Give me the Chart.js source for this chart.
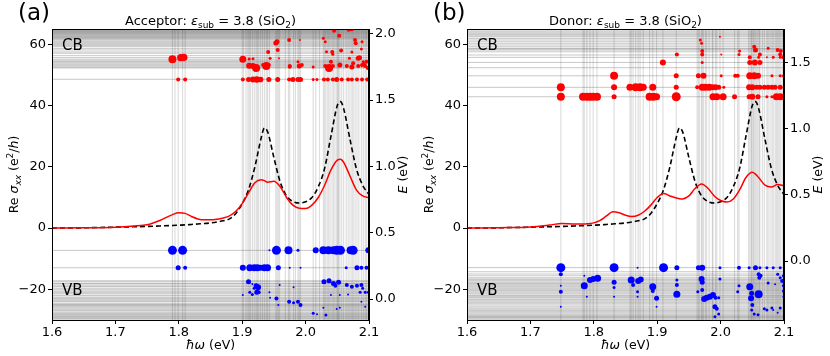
<!DOCTYPE html>
<html><head><meta charset="utf-8">
<script src="https://cdn.jsdelivr.net/npm/chart.js@4.4.1/dist/chart.umd.min.js"></script>
<style>
html,body{margin:0;padding:0;background:#fff;}
#wrap{position:relative;width:830px;height:356px;}
canvas{position:absolute;top:0;}
</style></head><body>
<div id="wrap"><canvas id="ca" width="415" height="356" style="left:0"></canvas><canvas id="cb" width="415" height="356" style="left:415px"></canvas></div>
<script>
// ---------- data ----------
const xTicks = [1.6, 1.7, 1.8, 1.9, 2.0, 2.1];
const sigmaTicks = [-20, 0, 20, 40, 60];
const eTicksAcceptor = [0.0, 0.5, 1.0, 1.5, 2.0];
const eTicksDonor = [0.0, 0.5, 1.0, 1.5];

const omega = [1.60,1.65,1.70,1.73,1.75,1.77,1.79,1.80,1.81,1.82,1.83,1.84,1.85,1.86,1.87,1.88,1.89,1.90,1.91,1.92,1.93,1.935,1.94,1.95,1.96,1.97,1.98,1.99,2.00,2.01,2.02,2.03,2.04,2.05,2.055,2.06,2.07,2.08,2.09,2.10];
const sigmaPristine = [0.0,0.1,0.3,0.45,0.55,0.7,0.85,0.95,1.05,1.2,1.35,1.5,1.7,2.0,2.4,3.0,4.8,8.0,12.5,20,29.5,32.7,31.5,23,15,10.5,8.7,8.2,8.6,10,13.5,19.5,30,40,41.3,39,29,19.5,14,11];
const sigmaAcceptor = [0.0,0.1,0.3,0.7,1.1,2.5,4.4,5.0,4.8,3.8,3.0,2.7,2.7,2.9,3.3,4.0,5.5,8.0,11.5,14.8,15.8,15.5,15.0,15.3,13.5,10,7.5,6.5,6.4,7.5,10,14,19,22.2,22.5,21.5,17,12.5,10.5,10];
const sigmaDonor = [0.0,0.15,0.4,1.0,1.5,1.3,1.4,1.7,2.5,4.0,5.3,5.0,4.2,3.8,4.2,5.5,7.5,10,11.3,10.5,9.8,9.6,9.5,10.5,13,14.4,13,10.5,9,8.5,9.5,12.5,16.5,18.2,17.6,16.5,14,13.4,14.2,13.8];

const transAcceptor = [1.790,1.794,1.799,1.806,1.810,1.900,1.902,1.906,1.909,1.911,1.913,1.916,1.919,1.922,1.924,1.926,1.929,1.932,1.935,1.938,1.940,1.943,1.953,1.955,1.957,1.959,1.968,1.973,1.975,1.981,1.984,1.988,1.990,1.992,2.012,2.016,2.022,2.028,2.030,2.032,2.035,2.037,2.040,2.043,2.045,2.048,2.050,2.051,2.052,2.054,2.057,2.060,2.064,2.067,2.070,2.073,2.075,2.078,2.081,2.084,2.088,2.091,2.094,2.096,2.099];
const transDonor = [1.748,1.783,1.785,1.789,1.794,1.799,1.805,1.832,1.857,1.859,1.862,1.866,1.870,1.873,1.878,1.888,1.893,1.899,1.909,1.930,1.963,1.965,1.967,1.970,1.971,1.973,1.976,1.978,1.982,1.987,1.988,1.992,1.994,1.999,2.004,2.022,2.027,2.029,2.044,2.046,2.048,2.049,2.050,2.052,2.053,2.055,2.057,2.059,2.061,2.062,2.066,2.069,2.073,2.075,2.078,2.081,2.083,2.086,2.088,2.090,2.092,2.094,2.097,2.099];

const levelsAcceptor = [1.657,1.742,1.748,1.757,1.765,1.773,1.782,1.790,1.797,1.808,1.820,1.835,1.853,1.863,1.878,1.890,1.903,1.912,1.920,1.928,1.936,1.944,1.953,1.960,1.966,1.970,1.975,1.980,1.985,1.990,1.995,2.000,2.004,2.008,2.012,2.016,2.020,2.024,2.028,2.032,2.036,
  0.367,0.236,0.138,0.130,0.118,0.113,0.100,0.093,0.081,0.070,0.060,0.051,0.043,0.030,0.023,0.010,0.005,-0.005,-0.013,-0.020,-0.032,-0.040,-0.045,-0.050,-0.058,-0.066,-0.075,-0.083,-0.090,-0.100,-0.108,-0.115,-0.121,-0.128,-0.133,-0.140,-0.146,-0.152];
const levelsDonor = [1.239,1.310,1.397,1.458,1.498,1.536,1.554,1.578,1.591,1.599,1.604,1.616,1.629,1.642,1.654,1.667,1.679,1.691,1.699,1.708,1.717,1.726,1.735,1.745,1.750,1.755,
  -0.050,-0.081,-0.098,-0.111,-0.126,-0.136,-0.143,-0.151,-0.161,-0.170,-0.176,-0.186,-0.194,-0.203,-0.211,-0.219,-0.226,-0.235,-0.244,-0.256,-0.262,-0.270,-0.277,-0.287,-0.294,-0.303,-0.312,-0.322,-0.332,-0.345,-0.355,-0.364,-0.373,-0.382,-0.391,-0.400,-0.408,-0.415,-0.420,-0.426,-0.432,-0.440];

// [ħω (eV), E (eV), strength]
const cbAcceptor = [
 [1.799,1.655,2],[1.810,1.655,2],[1.901,1.655,2],[1.910,1.655,2.5],[1.917,1.655,3],[1.923,1.655,3.2],[1.929,1.655,2.8],[1.942,1.655,2.5],[1.956,1.655,2.5],[1.974,1.655,2],[1.980,1.655,2.5],[1.988,1.655,2.5],[1.992,1.655,2.5],[2.012,1.655,1.5],[2.018,1.655,1.5],[2.029,1.655,2],[2.035,1.655,2],[2.043,1.655,2],[2.049,1.655,2.5],[2.057,1.655,2],[2.067,1.655,2],[2.073,1.655,2],[2.081,1.655,2],[2.089,1.655,2],[2.097,1.655,2],
 [1.911,1.759,3],[1.917,1.757,3],[1.922,1.742,4],[1.933,1.765,2],[1.938,1.757,4],[1.942,1.765,2],[1.975,1.757,2],[1.990,1.757,2.5],[1.994,1.765,2],[2.012,1.750,1.5],[2.031,1.757,2],[2.037,1.742,4],[2.043,1.757,2],[2.054,1.765,2.5],[2.065,1.757,2],[2.073,1.750,2.5],[2.083,1.757,2],[2.089,1.765,2],[2.094,1.757,2],[2.098,1.742,2],
 [1.790,1.808,4],[1.803,1.820,3.6],[1.808,1.822,3.6],[1.901,1.808,3.5],[1.911,1.810,1.5],[1.917,1.812,1.5],[1.944,1.815,1.5],[1.958,1.815,1],[1.975,1.752,2],[1.988,1.790,1.5],
 [1.941,1.863,2],[1.956,1.878,2],[1.953,1.931,2.5],[1.955,1.940,2.5],[1.974,1.953,2],[1.991,1.953,1],[2.031,1.940,1.5],[2.045,2.023,2],[2.053,1.986,2],[2.068,2.030,2],[2.079,1.928,2],[2.089,1.940,1.5],
 [2.042,1.863,2],[2.056,1.873,2],[2.073,1.863,1.5],[2.083,1.815,2.5],[2.091,1.790,1.5],[2.075,1.777,2],[2.028,1.966,1.5],[2.073,2.034,2],[2.078,1.953,2],[2.088,1.885,1.5],[2.033,1.865,1.5],[2.043,1.845,1.5],[2.040,1.790,2],[2.069,1.815,1.5],[2.085,1.820,2.5],[2.096,1.790,2],[2.092,1.770,2]
];
const vbAcceptor = [
 [1.790,0.367,4.5],[1.806,0.367,4.5],[1.943,0.367,1],[1.954,0.367,4.5],[1.973,0.367,4],[1.988,0.367,1.5],[2.016,0.367,3],[2.028,0.367,4],[2.036,0.367,4],[2.044,0.367,4],[2.049,0.367,4.5],[2.055,0.367,4.5],[2.071,0.367,4],[2.075,0.367,4.5],[2.099,0.367,3],
 [1.799,0.236,2.5],[1.810,0.236,2],[1.901,0.236,3],[1.912,0.236,3.5],[1.919,0.236,3.5],[1.924,0.236,3.5],[1.929,0.236,3],[1.935,0.236,3.5],[1.940,0.236,3.5],[1.957,0.236,2.5],[1.975,0.236,1],[1.992,0.236,1],[2.064,0.236,1.5],[2.081,0.236,2.5],[2.088,0.236,2],[2.096,0.236,2],
 [1.910,0.130,2.5],[1.916,0.113,1],[1.922,0.100,2.5],[1.925,0.088,3],[1.919,0.081,1.5],[1.959,0.106,1],[1.981,0.088,1],[1.912,0.051,1.5],[1.923,0.051,2.5],[1.926,0.051,2],[1.901,0.030,1],[1.916,0.035,1.5],[1.943,0.051,1],[1.944,0.010,1],[1.954,0.005,2],[1.974,-0.020,2],[1.981,-0.028,1.5],[1.988,-0.020,2],[1.992,-0.045,2],[1.957,-0.045,1],
 [2.012,-0.108,1.5],[2.018,-0.115,1],[2.032,-0.121,1.5],[2.028,-0.066,1],[2.049,-0.075,1],[2.054,-0.066,1],[2.029,0.130,2.5],[2.037,0.138,2.5],[2.044,0.118,2.5],[2.052,0.126,2.5],[2.047,0.100,2],[2.065,0.106,2],[2.073,0.093,2],[2.081,0.100,2],[2.088,0.106,2],[2.090,0.081,1.5],[2.067,0.035,1],[2.086,0.051,1.5],[2.094,0.051,1.5],[2.099,0.051,1.5],[2.040,0.030,1],[2.054,0.030,1],[2.088,-0.020,1],[2.094,-0.058,1]
];
const cbDonor = [
 [1.748,1.239,4],[1.783,1.239,4],[1.789,1.239,4],[1.794,1.239,4],[1.799,1.239,4],[1.805,1.239,4],[1.832,1.239,2.5],[1.888,1.239,4],[1.894,1.239,4],[1.899,1.239,3.5],[1.930,1.239,4.5],[1.988,1.239,3.5],[1.994,1.239,3.5],[2.004,1.239,3.5],[2.022,1.239,2.5],[2.045,1.239,2.5],[2.050,1.239,3],[2.059,1.239,2.5],[2.073,1.239,1.5],[2.081,1.239,1.5],[2.088,1.239,3.5],[2.094,1.239,3.5],[2.099,1.239,3],
 [1.748,1.310,4],[1.832,1.310,3],[1.857,1.310,3.5],[1.866,1.310,4],[1.873,1.310,4],[1.878,1.310,3.5],[1.893,1.310,3.5],[1.930,1.310,2.5],[1.963,1.310,2],[1.971,1.310,3.5],[1.976,1.310,3.5],[1.982,1.310,3.5],[1.987,1.310,3],[1.992,1.310,3],[1.997,1.310,2.5],[2.005,1.310,1.5],[2.045,1.310,3],[2.050,1.310,3],[2.057,1.310,2.5],[2.062,1.310,2.5],[2.069,1.310,2.5],[2.075,1.310,2.5],[2.081,1.310,2.5],[2.086,1.310,2.5],[2.094,1.310,2.5],
 [1.832,1.397,4],[1.930,1.397,2.5],[1.965,1.397,2.5],[1.973,1.397,3],[2.001,1.397,1.5],[2.023,1.397,2],[2.027,1.397,2],[2.046,1.397,3.5],[2.053,1.397,3.5],[2.059,1.397,3],[2.081,1.397,1.5],[2.094,1.397,1.5],[2.099,1.397,1.5],
 [1.909,1.498,3],[1.971,1.498,1.5],[2.046,1.498,2.5],[2.054,1.498,3],[2.062,1.498,2.5],
 [2.046,1.536,2],[2.060,1.536,1.5],[2.073,1.536,1],[2.083,1.536,1.5],[2.094,1.536,1.5],[2.099,1.536,2],[1.931,1.557,2],[1.971,1.557,2],[2.029,1.557,1.5],[2.062,1.557,2],[2.094,1.557,2],[1.971,1.584,2],[1.968,1.667,1.5],[1.970,1.642,1.5],[1.999,1.691,1],[2.053,1.616,2],[2.055,1.591,2.5],[2.075,1.604,1.5],[2.090,1.591,2],[2.095,1.584,2],[2.001,1.557,1],[2.030,1.584,1.5]
];
const vbDonor = [
 [1.748,-0.050,4.5],[1.832,-0.050,4.5],[1.869,-0.050,1],[1.910,-0.050,4.5],[1.931,-0.050,2.5],[1.965,-0.050,2.5],[1.971,-0.050,3],[1.999,-0.050,1.5],[2.029,-0.050,2],[2.045,-0.050,1.5],[2.055,-0.050,2.5],[2.062,-0.050,1.5],[2.073,-0.050,1.5],[2.083,-0.050,1.5],[2.094,-0.050,1.5],
 [1.748,-0.100,2],[1.748,-0.186,1],[1.748,-0.232,2],[1.748,-0.345,1],[1.785,-0.111,1],[1.785,-0.186,3.5],[1.794,-0.143,3],[1.799,-0.136,3],[1.806,-0.130,3.5],[1.789,-0.269,1],[1.832,-0.161,2.5],[1.832,-0.200,1.5],[1.832,-0.269,1],
 [1.859,-0.143,3.5],[1.862,-0.181,2],[1.870,-0.151,3],[1.874,-0.140,3],[1.869,-0.232,1.5],[1.869,-0.269,1],[1.893,-0.194,3.5],[1.893,-0.226,2],[1.899,-0.281,2.5],[1.899,-0.345,1],[1.931,-0.143,1.5],[1.931,-0.181,2],[1.931,-0.251,3.5],
 [1.964,-0.232,1.5],[1.970,-0.136,3],[1.971,-0.160,2.5],[1.971,-0.219,2],[1.974,-0.287,3],[1.978,-0.277,3],[1.983,-0.269,3],[1.988,-0.256,3],[1.992,-0.277,2],[1.991,-0.345,2.5],[1.994,-0.360,2],[1.997,-0.277,1.5],[1.999,-0.136,1.5],[1.991,-0.420,1.5],[1.997,-0.400,1.5],[2.027,-0.232,1.5],[2.029,-0.186,1.5],
 [2.046,-0.194,3.5],[2.048,-0.281,3],[2.049,-0.244,2.5],[2.060,-0.251,4],[2.061,-0.126,2],[2.063,-0.111,2],[2.060,-0.100,2],[2.050,-0.332,2],[2.049,-0.370,1.5],[2.053,-0.400,1.5],[2.059,-0.405,1.5],[2.069,-0.360,1.5],[2.073,-0.370,1.5],[2.081,-0.355,1.5],[2.083,-0.370,1],
 [2.090,-0.100,1.5],[2.094,-0.126,1.5],[2.097,-0.151,2],[2.099,-0.111,1.5],[2.099,-0.186,1.5],[2.099,-0.226,1.5],[2.094,-0.355,1.5],[2.090,-0.390,1],[2.099,-0.269,1],[2.075,-0.165,1.5],[2.086,-0.175,1]
];

// ---------- drawing ----------
const FONT = '"DejaVu Sans"';
const X_MIN = 1.6, X_MAX = 2.1, S_MIN = -30, S_MAX = 65;

function drawRich(ctx, segs, x, y, rot){
  ctx.save();
  ctx.translate(x, y); ctx.rotate(rot || 0);
  let w = 0;
  segs.forEach(s => { ctx.font = (s.it ? 'italic ' : '') + s.sz + 'px ' + FONT; s.w = ctx.measureText(s.t).width; w += s.w; });
  let cx = -w / 2;
  ctx.fillStyle = '#000'; ctx.textAlign = 'left'; ctx.textBaseline = 'alphabetic';
  segs.forEach(s => { ctx.font = (s.it ? 'italic ' : '') + s.sz + 'px ' + FONT; ctx.fillText(s.t, cx, s.dy || 0); cx += s.w; });
  ctx.restore();
}

function makeChart(id, cfg){
  const ds = [];
  cfg.trans.forEach(v => ds.push({type:'line', data:[{x:v,y:S_MIN},{x:v,y:S_MAX}], yAxisID:'y', borderColor:'rgba(0,0,0,0.13)', borderWidth:1.2, pointRadius:0, order:4}));
  cfg.levels.forEach(e => ds.push({type:'line', data:[{x:X_MIN,y:e},{x:X_MAX,y:e}], yAxisID:'y2', borderColor:'rgba(0,0,0,0.22)', borderWidth:1, pointRadius:0, order:3}));
  ds.push({type:'line', data: omega.map((x,i)=>({x, y:sigmaPristine[i]})), yAxisID:'y', borderColor:'#000', borderDash:[5,3], borderWidth:1.6, pointRadius:0, cubicInterpolationMode:'monotone', order:2});
  ds.push({type:'line', data: omega.map((x,i)=>({x, y:cfg.sigma[i]})), yAxisID:'y', borderColor:'#ff0000', borderWidth:1.5, pointRadius:0, cubicInterpolationMode:'monotone', order:1});
  ds.push({type:'scatter', data: cfg.cb.map(p=>({x:p[0], y:p[1]})), yAxisID:'y2', pointRadius: cfg.cb.map(p=>p[2]), backgroundColor:'#ff0000', borderWidth:0, order:0});
  ds.push({type:'scatter', data: cfg.vb.map(p=>({x:p[0], y:p[1]})), yAxisID:'y2', pointRadius: cfg.vb.map(p=>p[2]), backgroundColor:'#0000ff', borderWidth:0, order:0});

  const tickFont = {family:FONT, size:13};
  const grid = {display:true, drawOnChartArea:false, drawTicks:true, tickLength:4, color:'#000', lineWidth:1};
  const overlay = {
    id:'overlay',
    afterDraw(chart){
      const ctx = chart.ctx, a = chart.chartArea;
      ctx.save(); ctx.strokeStyle = '#000'; ctx.lineWidth = 1;
      ctx.strokeRect(Math.round(a.left)+0.5, Math.round(a.top)+0.5, Math.round(a.right-a.left)-1, Math.round(a.bottom-a.top));
      ctx.restore();
      const cx = (a.left + a.right) / 2, cy = (a.top + a.bottom) / 2;
      drawRich(ctx, [{t:cfg.name+': ',sz:13},{t:'ε',sz:13,it:true},{t:'sub',sz:9,dy:3},{t:' = 3.8 (SiO',sz:13},{t:'2',sz:9,dy:3},{t:')',sz:13}], cx, 25);
      drawRich(ctx, [{t:'Re ',sz:12.5},{t:'σ',sz:12.5,it:true},{t:'xx',sz:9,it:true,dy:2.5},{t:' (e',sz:12.5},{t:'2',sz:9,dy:-5},{t:'/',sz:12.5},{t:'h',sz:12.5,it:true},{t:')',sz:12.5}], 18, cy, -Math.PI/2);
      drawRich(ctx, [{t:'E',sz:12.5,it:true},{t:' (eV)',sz:12.5}], 407, cy, -Math.PI/2);
      drawRich(ctx, [{t:'ħω',sz:12.5,it:true},{t:' (eV)',sz:12.5}], cx, 349);
      ctx.save(); ctx.fillStyle='#000'; ctx.textAlign='left'; ctx.textBaseline='alphabetic';
      ctx.font = '23px ' + FONT; ctx.fillText(cfg.panel, 18, 20);
      ctx.font = '15px ' + FONT; ctx.fillText('CB', a.left + 10, 50); ctx.fillText('VB', a.left + 10, 295);
      ctx.restore();
    }
  };
  return new Chart(document.getElementById(id), {
    type:'line',
    data:{datasets:ds},
    plugins:[overlay],
    options:{
      responsive:false, animation:false, events:[],
      layout:{padding:{top:29,left:0,right:0,bottom:0}},
      plugins:{legend:{display:false}, tooltip:{enabled:false}, title:{display:false}},
      scales:{
        x:{type:'linear', min:X_MIN, max:X_MAX, grid, border:{display:true,color:'#000'},
           afterBuildTicks:s=>{s.ticks = xTicks.map(v=>({value:v}));}, afterFit:s=>{s.height = 36;},
           ticks:{font:tickFont, color:'#000', padding:1, maxRotation:0, autoSkip:false, callback:v=>v.toFixed(1)}},
        y:{type:'linear', position:'left', min:S_MIN, max:S_MAX, grid, border:{display:true,color:'#000'},
           afterBuildTicks:s=>{s.ticks = sigmaTicks.map(v=>({value:v}));}, afterFit:s=>{s.width = 52;},
           ticks:{font:tickFont, color:'#000', padding:2, autoSkip:false, callback:v=>String(v).replace('-','\u2212')}},
        y2:{type:'linear', position:'right', min:cfg.eMin, max:cfg.eMax, grid, border:{display:true,color:'#000'},
           afterBuildTicks:s=>{s.ticks = cfg.eTicks.map(v=>({value:v}));}, afterFit:s=>{s.width = 46;},
           ticks:{font:tickFont, color:'#000', padding:2, autoSkip:false, callback:v=>v.toFixed(1)}}
      }
    }
  });
}

makeChart('ca', {name:'Acceptor', panel:'(a)', sigma:sigmaAcceptor, trans:transAcceptor, levels:levelsAcceptor, cb:cbAcceptor, vb:vbAcceptor, eMin:-0.158, eMax:2.036, eTicks:eTicksAcceptor});
makeChart('cb', {name:'Donor', panel:'(b)', sigma:sigmaDonor, trans:transDonor, levels:levelsDonor, cb:cbDonor, vb:vbDonor, eMin:-0.445, eMax:1.75, eTicks:eTicksDonor});
</script>
</body></html>
